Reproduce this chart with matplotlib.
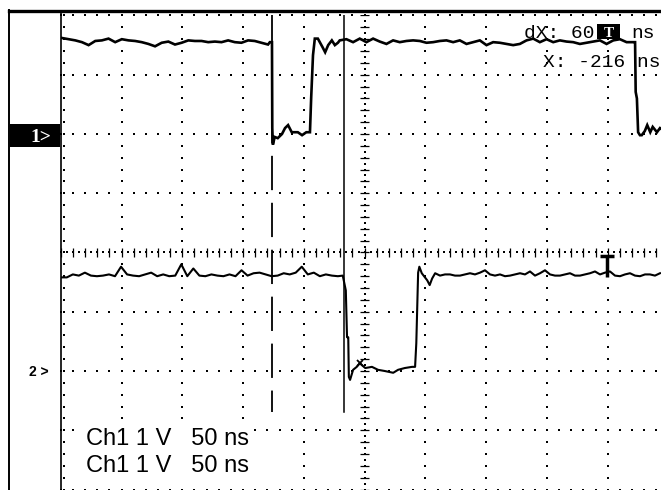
import numpy as np
import matplotlib
matplotlib.use("Agg")
import matplotlib.pyplot as plt
from matplotlib.patches import Rectangle

W, H = 661, 490

# ---- screen: 10 x 8 divisions (1 V/div, 50 ns/div) ----
n_xdiv, n_ydiv = 10, 8
ch1_ground_div = 2.0
ch2_ground_div = -2.0

# ---- Channel 1 trace (volts vs. horizontal divisions) ----
ch1_high1_span = (0.02, 3.41)
ch1_high1_v = [1.62, 1.60, 1.58, 1.55, 1.50, 1.57, 1.58, 1.61, 1.55, 1.60,
               1.58, 1.57, 1.55, 1.52, 1.48, 1.54, 1.56, 1.51, 1.54, 1.58,
               1.57, 1.57, 1.55, 1.56, 1.55, 1.58, 1.55, 1.54, 1.58, 1.57,
               1.54, 1.51]
ch1_pulse_x = [3.44, 3.475, 3.48, 3.49, 3.52, 3.57, 3.64, 3.69, 3.74, 3.80,
               3.90, 3.97, 4.04, 4.10, 4.12, 4.15, 4.18, 4.23, 4.31, 4.35,
               4.40, 4.46, 4.51, 4.56]
ch1_pulse_v = [1.55, 1.55, 0.10, -0.18, -0.05, -0.07, 0.00, 0.10, 0.15, 0.03,
               0.03, -0.02, 0.03, 0.03, 0.61, 1.33, 1.61, 1.61, 1.46, 1.38,
               1.50, 1.58, 1.50, 1.54]
ch1_high2_span = (4.59, 9.42)
ch1_high2_v = [1.58, 1.60, 1.55, 1.61, 1.55, 1.61, 1.56, 1.52, 1.58, 1.55,
               1.57, 1.58, 1.57, 1.54, 1.55, 1.57, 1.58, 1.55, 1.58, 1.52,
               1.55, 1.58, 1.50, 1.55, 1.54, 1.52, 1.50, 1.52, 1.58, 1.61,
               1.55, 1.60, 1.55, 1.58, 1.56, 1.55, 1.52, 1.54, 1.56, 1.58,
               1.52, 1.58, 1.60, 1.55, 1.55]
ch1_tail_x = [9.45, 9.46, 9.48, 9.50, 9.53, 9.56, 9.61, 9.65, 9.70, 9.74,
              9.81, 9.86, 9.93, 10.02]
ch1_tail_v = [1.55, 0.71, 0.60, 0.03, -0.02, -0.02, 0.05, 0.15, 0.03, 0.12,
              0.03, 0.10, 0.05, 0.08]

# ---- Channel 2 trace ----
ch2_base1_span = (0.0, 4.56)
ch2_base1_v = [1.58, 1.58, 1.63, 1.61, 1.66, 1.61, 1.60, 1.61, 1.63, 1.60,
               1.76, 1.63, 1.61, 1.60, 1.63, 1.66, 1.60, 1.63, 1.60, 1.61,
               1.80, 1.60, 1.73, 1.61, 1.60, 1.63, 1.61, 1.60, 1.63, 1.60,
               1.70, 1.61, 1.65, 1.66, 1.63, 1.60, 1.61, 1.65, 1.63, 1.66,
               1.76, 1.63, 1.66, 1.60, 1.63, 1.61, 1.60]
ch2_pulse_x = [4.64, 4.69, 4.71, 4.73, 4.74, 4.76, 4.81, 4.87, 4.92, 5.01,
               5.12, 5.22, 5.33, 5.47, 5.55, 5.66, 5.78, 5.83, 5.85, 5.88,
               5.90, 5.94, 6.03, 6.07, 6.11, 6.16]
ch2_pulse_v = [1.61, 1.36, 0.57, 0.57, -0.10, -0.15, 0.02, 0.07, 0.13, 0.05,
               0.07, 0.02, 0.00, -0.03, 0.02, 0.05, 0.07, 0.07, 0.47, 1.66,
               1.76, 1.65, 1.53, 1.45, 1.56, 1.65]
ch2_base2_span = (6.24, 9.86)
ch2_base2_v = [1.61, 1.63, 1.63, 1.61, 1.61, 1.63, 1.65, 1.63, 1.66, 1.70,
               1.63, 1.61, 1.63, 1.60, 1.61, 1.63, 1.65, 1.63, 1.68, 1.61,
               1.65, 1.70, 1.63, 1.61, 1.61, 1.63, 1.65, 1.61, 1.61, 1.63,
               1.65, 1.68, 1.63, 1.66, 1.68, 1.61, 1.60, 1.63, 1.65, 1.61,
               1.60, 1.63, 1.63, 1.61, 1.65]

# ---- cursors / markers ----
cursor_dashed_x = 3.475
cursor_solid_x = 4.66
cursor_bottom = -2.70
trigger_x = 8.99
trigger_y = (-0.06, -0.41)
ch2_x_marker = (4.92, 0.13)

# ---- texts ----
readout_lines = ["Ch1 1 V   50 ns", "Ch1 1 V   50 ns"]
dx_label = "dX: 60"
dx_unit = "ns"
x_label = "X: -216 ns"
ch1_label = "1>"
ch2_label = "2 >"


def seg(span, vals):
    return np.linspace(span[0], span[1], len(vals)), np.asarray(vals, float)


def fx(px):
    return px / W


def fy(py):
    return 1 - py / H


fig = plt.figure(figsize=(W / 100, H / 100), dpi=100, facecolor="white")

# graticule axes: x=0 at 60.8 px, 10 div = 607.7 px ; y top 15.5 px, bottom 489.5 px
ax = fig.add_axes([60.8 / W, 0.5 / H, 607.7 / W, 474 / H])
ax.set_xlim(0, n_xdiv)
ax.set_ylim(-n_ydiv / 2, n_ydiv / 2)
ax.axis("off")

dot_kw = dict(marker="s", s=2.6, c="black", linewidths=0, clip_on=False, zorder=2)

# major vertical lines (dotted)
for k in range(1, n_xdiv):
    if k == 5:
        continue
    ys = np.arange(-4, 4.001, 0.2)
    ax.scatter(np.full_like(ys, k), ys, **dot_kw)
# major horizontal lines (dotted), incl. top and bottom edges
for k in range(-4, 5):
    if k == 0:
        continue
    xs = np.arange(0, 10.001, 0.2)
    ax.scatter(xs, np.full_like(xs, k), **dot_kw)
# center vertical: fine dots plus short tick marks
ys = np.arange(-4, 4.001, 0.1)
ax.scatter(np.full_like(ys, 5), ys, **dot_kw)
ys2 = np.arange(-4, 4.001, 0.2)
ax.hlines(ys2, 5 - 0.07, 5 + 0.07, colors="black", lw=0.9, zorder=2)
# center horizontal: fine dots plus short tick marks
xs = np.arange(0, 10.001, 0.1)
ax.scatter(xs, np.zeros_like(xs), **dot_kw)
xs2 = np.arange(0, 10.001, 0.2)
ax.vlines(xs2, -0.08, 0.08, colors="black", lw=0.9, zorder=2)
# left edge: solid with small ticks
ax.plot([0, 0], [-4, 4.05], color="black", lw=1.2, clip_on=False)
ax.scatter(np.full_like(ys2, 0.05), ys2, **dot_kw)

# cursors
ax.plot([cursor_dashed_x, cursor_dashed_x], [4, cursor_bottom], color="black",
        lw=1.3, linestyle=(0, (19, 7)), zorder=3)
ax.plot([cursor_solid_x, cursor_solid_x], [4, cursor_bottom], color="black",
        lw=1.1, zorder=3)

# channel 1
x1a, v1a = seg(ch1_high1_span, ch1_high1_v)
x1b, v1b = seg(ch1_high2_span, ch1_high2_v)
ch1_x = np.concatenate([x1a, ch1_pulse_x, x1b, ch1_tail_x])
ch1_v = np.concatenate([v1a, ch1_pulse_v, v1b, ch1_tail_v])
ax.plot(ch1_x, ch1_v + ch1_ground_div, color="black", lw=1.9, zorder=4,
        solid_joinstyle="miter")

# channel 2
x2a, v2a = seg(ch2_base1_span, ch2_base1_v)
x2b, v2b = seg(ch2_base2_span, ch2_base2_v)
ch2_x = np.concatenate([x2a, ch2_pulse_x, x2b])
ch2_v = np.concatenate([v2a, ch2_pulse_v, v2b])
ax.plot(ch2_x, ch2_v + ch2_ground_div, color="black", lw=1.5, zorder=4)

# X marker on ch2 and trigger "T"
ax.plot([ch2_x_marker[0]], [ch2_x_marker[1] + ch2_ground_div], marker="x",
        ms=5, mew=1.3, color="black", zorder=5)
ax.plot([trigger_x - 0.11, trigger_x + 0.11], [trigger_y[0], trigger_y[0]],
        color="black", lw=2.5, zorder=5, solid_capstyle="butt")
ax.plot([trigger_x, trigger_x], list(trigger_y), color="black", lw=2.5,
        zorder=5, solid_capstyle="butt")

# ---- frame outside the graticule ----
fig.add_artist(plt.Line2D([fx(9), fx(9)], [fy(10), fy(490)], color="black",
                          lw=1.4, transform=fig.transFigure))
fig.add_artist(plt.Line2D([fx(8.5), fx(661)], [fy(11), fy(11)], color="black",
                          lw=2.4, transform=fig.transFigure))

# channel markers
fig.add_artist(Rectangle((fx(10), fy(147)), (60 - 10) / W, 23 / H,
                         facecolor="black", edgecolor="none",
                         transform=fig.transFigure))
fig.text(fx(30), fy(142), ch1_label, color="white", fontsize=14,
         fontweight="bold", family="Liberation Serif", va="baseline")
fig.text(fx(29), fy(376), ch2_label, color="black", fontsize=10,
         fontweight="bold", family="Liberation Sans", va="baseline")

# readout (white background hides graticule under the text)
for i, line in enumerate(readout_lines):
    fig.text(fx(86), fy(445 + 27 * i), line, fontsize=17,
             family="Liberation Sans", va="baseline", color="black",
             zorder=6, bbox=dict(facecolor="white", edgecolor="none", pad=1.5))

# cursor readouts (top right)
fig.text(fx(524), fy(38), dx_label, fontsize=14, family="Liberation Mono",
         va="baseline", color="black", zorder=6)
fig.add_artist(Rectangle((fx(597), fy(39)), 23 / W, 15 / H,
                         facecolor="black", edgecolor="none",
                         transform=fig.transFigure, zorder=6))
fig.text(fx(608.5), fy(37), "T", fontsize=11, family="Liberation Serif",
         fontweight="bold", color="white", ha="center", va="baseline",
         zorder=7)
fig.text(fx(631), fy(38), dx_unit, fontsize=14, family="Liberation Mono",
         va="baseline", color="black", zorder=6)
fig.text(fx(543), fy(67), x_label, fontsize=14, family="Liberation Mono",
         va="baseline", color="black", zorder=6)

fig.savefig("out.png", dpi=100, facecolor="white")
